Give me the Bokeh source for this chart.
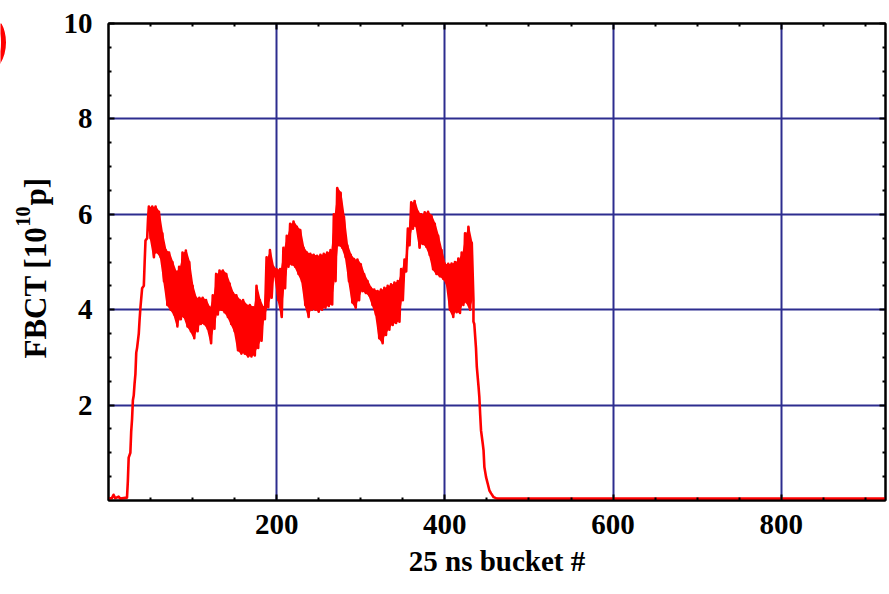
import math
from bokeh.plotting import figure
from bokeh.layouts import row
from bokeh.models import Range1d, FixedTicker, LinearAxis, Label
from bokeh.embed import file_html
from bokeh.resources import INLINE

# ---- data (bucket #, FBCT in 1e10 p) ----
rise_x = [0, 4, 6, 8, 12, 14, 18, 22, 23, 24, 26, 27, 28, 29, 30, 31, 32, 33, 34, 36, 37, 38, 40, 42, 43, 44, 46, 47]
rise_y = [0.04, 0.05, 0.12, 0.05, 0.08, 0.04, 0.05, 0.06, 0.4, 0.9, 1.0, 1.45, 1.7, 2.1, 2.2, 2.45, 2.65, 3.1, 3.2,
          3.5, 3.8, 4.05, 4.45, 4.5, 5.0, 5.45, 5.5, 5.9]

# noisy bunch-train region: upper / lower envelope of the bucket-to-bucket scatter
band_x = list(range(48, 433, 4))
band_hi = [6.16, 6.16, 6.16, 6.05, 5.6, 5.25, 5.2, 5.0, 4.8, 4.9, 5.2, 5.24, 5.0, 4.5, 4.25, 4.25, 4.25, 4.2, 4.05,
           4.3, 4.75, 4.82, 4.82, 4.75, 4.55, 4.35, 4.3, 4.2, 4.2, 4.1, 4.1, 4.05, 4.5, 4.2, 4.05, 5.1, 5.25, 4.9,
           4.85, 4.85, 5.3, 5.55, 5.8, 5.85, 5.74, 5.67, 5.3, 5.2, 5.17, 5.15, 5.13, 5.15, 5.17, 5.2, 5.25, 6.0,
           6.55, 6.45, 5.95, 5.35, 5.15, 5.06, 5.05, 4.95, 4.74, 4.6, 4.46, 4.42, 4.39, 4.42, 4.46, 4.5, 4.53, 4.57,
           4.6, 4.85, 5.05, 5.7, 6.25, 6.28, 6.05, 6.0, 6.04, 6.05, 5.97, 5.8, 5.55, 5.25, 4.96, 4.96, 4.97, 5.0,
           5.07, 5.2, 5.6, 5.74, 5.4]
band_lo = [5.5, 5.1, 5.2, 5.1, 4.6, 4.1, 4.0, 3.9, 3.65, 3.8, 3.85, 3.65, 3.55, 3.4, 3.55, 3.7, 3.7, 3.6, 3.3, 3.6,
           3.9, 4.0, 3.95, 3.85, 3.7, 3.55, 3.15, 3.08, 3.08, 3.02, 3.02, 3.04, 3.2, 3.35, 3.8, 4.05, 4.25, 4.7,
           4.2, 3.85, 4.45, 4.9, 4.95, 4.9, 4.75, 4.6, 4.1, 3.85, 4.0, 4.0, 3.96, 4.0, 4.04, 4.08, 4.11, 4.6, 5.35,
           5.3, 5.1, 4.6, 4.15, 4.04, 4.2, 4.39, 4.35, 4.3, 4.1, 3.9, 3.4, 3.3, 3.47, 3.58, 3.68, 3.72, 3.75, 4.2,
           4.8, 5.35, 5.7, 5.75, 5.3, 5.38, 5.32, 5.15, 4.85, 4.75, 4.7, 4.65, 4.55, 4.0, 3.85, 3.95, 3.93, 4.1,
           4.15, 4.0, 4.2]

fall_x = [434, 435, 437, 438, 440, 441, 442, 443, 445, 446, 447, 449, 451, 453, 455, 458, 462, 924]
fall_y = [3.75, 3.7, 3.2, 2.8, 2.4, 2.17, 1.8, 1.47, 1.2, 1.05, 0.7, 0.49, 0.35, 0.21, 0.15, 0.07, 0.04, 0.04]

x_ticks = [200, 400, 600, 800]
y_ticks = [2, 4, 6, 8, 10]
x_minor = [50, 100, 150, 250, 300, 350, 450, 500, 550, 650, 700, 750, 850, 900]
y_minor = [0.5, 1, 1.5, 2.5, 3, 3.5, 4.5, 5, 5.5, 6.5, 7, 7.5, 8.5, 9, 9.5]

ylab_main = "FBCT [10"
ylab_sup = "10"
ylab_end = " p]"
x_title = "25 ns bucket #"

assert len(band_hi) == len(band_x) == len(band_lo)

xs, ys = list(rise_x), list(rise_y)
for bx, h, l in zip(band_x, band_hi, band_lo):
    xs += [bx, bx + 2]
    ys += [h, l]
xs += fall_x
ys += fall_y

FONT = "Liberation Serif"
RED = "#ff0000"
H = 594
LW = 60            # width of the strip that carries the y-axis title
TOP, BOT = 23, 94  # borders above / below the plotting frame

# ---------------- left strip: y-axis title with real superscript ----------------
# strip coordinates: x = pixels from the left, y = pixels from the bottom of the page
lab = figure(width=LW, height=H, output_backend="svg", toolbar_location=None,
             x_range=Range1d(0, LW), y_range=Range1d(BOT, H - TOP),
             x_axis_location=None, y_axis_location=None,
             min_border_left=0, min_border_right=0, min_border_top=TOP, min_border_bottom=BOT,
             outline_line_color=None,
             background_fill_color="white", border_fill_color="white")
lab.grid.visible = False
lkw = dict(angle=math.pi / 2, text_font=FONT, text_font_style="bold", text_color="black",
           text_baseline="middle", text_align="left")
lab.add_layout(Label(x=34.5, y=H - 358, text=ylab_main, text_font_size="31px", **lkw))
lab.add_layout(Label(x=22, y=H - 226, text=ylab_sup, text_font_size="20px", **lkw))
lab.add_layout(Label(x=34.5, y=H - 205, text=ylab_end, text_font_size="31px", **lkw))
# cut-off red circle of the panel marker at the top-left corner
lab.circle(x=[-36], y=[H - 42], radius=39, fill_color=None, line_color=RED, line_width=5)

# ---------------- main plot ----------------
p = figure(width=889 - LW, height=H, output_backend="svg", toolbar_location=None,
           x_range=Range1d(0, 924), y_range=Range1d(0, 10),
           min_border_left=108 - LW, min_border_right=4, min_border_top=TOP, min_border_bottom=BOT,
           background_fill_color="white", border_fill_color="white")
p.outline_line_color = "black"
p.outline_line_width = 2

p.varea(x=[b + 1 for b in band_x], y1=band_lo, y2=band_hi, fill_color=RED)
p.line(xs, ys, line_color=RED, line_width=2.6, line_join="round")

xt = FixedTicker(ticks=x_ticks, minor_ticks=x_minor)
yt = FixedTicker(ticks=y_ticks, minor_ticks=y_minor)

for ax in (p.xaxis[0], p.yaxis[0]):
    ax.axis_line_color = "black"
    ax.axis_line_width = 2
    ax.major_tick_in = 6
    ax.major_tick_out = 0
    ax.minor_tick_in = 3
    ax.minor_tick_out = 0
    ax.major_tick_line_color = "black"
    ax.minor_tick_line_color = "black"
    ax.major_tick_line_width = 2
    ax.minor_tick_line_width = 2
    ax.major_label_text_font = FONT
    ax.major_label_text_font_style = "bold"
    ax.major_label_text_font_size = "29px"
    ax.major_label_text_color = "black"
    ax.axis_label_text_font = FONT
    ax.axis_label_text_font_style = "bold"
    ax.axis_label_text_font_size = "29px"
    ax.axis_label_text_color = "black"

p.xaxis[0].ticker = xt
p.yaxis[0].ticker = yt
p.xaxis[0].axis_label = x_title
p.xaxis[0].major_label_standoff = 14
p.xaxis[0].axis_label_standoff = 8
p.yaxis[0].major_label_standoff = 16

for loc, tk in (("above", xt), ("right", yt)):
    a = LinearAxis(ticker=tk)
    a.major_label_text_color = None
    a.major_label_text_font_size = "1px"
    a.major_label_standoff = 0
    a.axis_line_color = "black"
    a.axis_line_width = 2
    a.major_tick_in = 6
    a.major_tick_out = 0
    a.minor_tick_in = 3
    a.minor_tick_out = 0
    a.major_tick_line_width = 2
    a.minor_tick_line_width = 2
    p.add_layout(a, loc)

p.xgrid.ticker = xt
p.ygrid.ticker = yt
p.grid.grid_line_color = "#2d2d8f"
p.grid.grid_line_width = 2

layout = row(lab, p, spacing=0)
open("out.html", "w").write(file_html(layout, INLINE))
